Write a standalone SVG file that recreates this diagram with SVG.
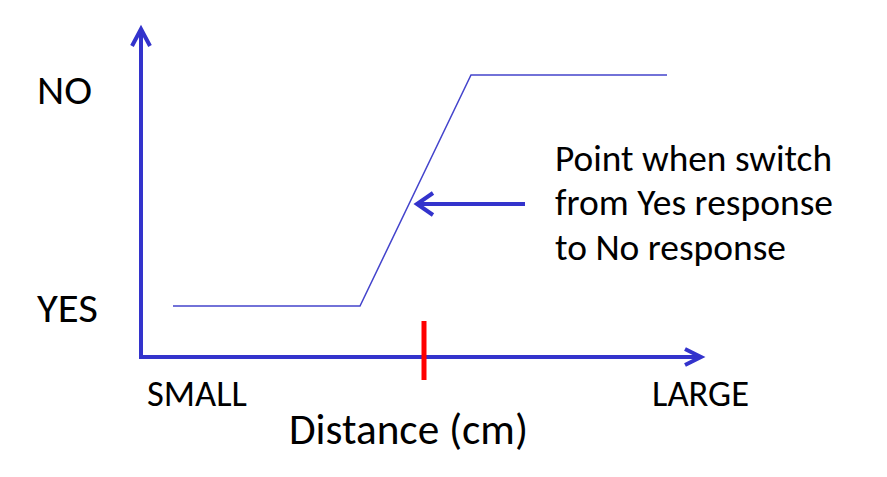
<svg xmlns="http://www.w3.org/2000/svg" width="887" height="477" viewBox="0 0 887 477">
<style>
.ax{stroke:#3333cc;stroke-width:4;fill:none;stroke-linecap:square}
.hd{stroke:#3333cc;stroke-width:4;fill:none;stroke-linejoin:miter}
.cv{stroke:#4444cc;stroke-width:1.5;fill:none}
text{font-family:Carlito,"Liberation Sans",Arial,sans-serif;fill:#000}
</style>
<rect width="887" height="477" fill="#fff"/>
<g id="connectors">
<line class="ax" x1="141" y1="32" x2="141" y2="357"/>
<polyline class="hd" points="132,46 141,29 150,46"/>
<line class="ax" x1="141" y1="357" x2="698" y2="357"/>
<polyline class="hd" points="685,349 701,357 685,365"/>
<polyline class="cv" points="173,306 360,306 471,75 667,75"/>
<line class="ax" x1="523" y1="204" x2="420" y2="204"/>
<polyline class="hd" points="433,193 417,204 433,215"/>
<line x1="424" y1="321" x2="424" y2="380" stroke="#ff0000" stroke-width="5"/>
</g>
<g id="labels">
<text x="37" y="104" font-size="42" textLength="55" lengthAdjust="spacingAndGlyphs">NO</text>
<text x="37" y="322" font-size="42" textLength="61" lengthAdjust="spacingAndGlyphs">YES</text>
<text x="147" y="406" font-size="36" textLength="100" lengthAdjust="spacingAndGlyphs">SMALL</text>
<text x="652" y="406" font-size="36" textLength="97" lengthAdjust="spacingAndGlyphs">LARGE</text>
<text x="289" y="444" font-size="43" textLength="239" lengthAdjust="spacingAndGlyphs">Distance (cm)</text>
<text x="555" y="171" font-size="37" textLength="277" lengthAdjust="spacingAndGlyphs">Point when switch</text>
<text x="555" y="215" font-size="37" textLength="278" lengthAdjust="spacingAndGlyphs">from Yes response</text>
<text x="555" y="260" font-size="37" textLength="231" lengthAdjust="spacingAndGlyphs">to No response</text>
</g>
</svg>
